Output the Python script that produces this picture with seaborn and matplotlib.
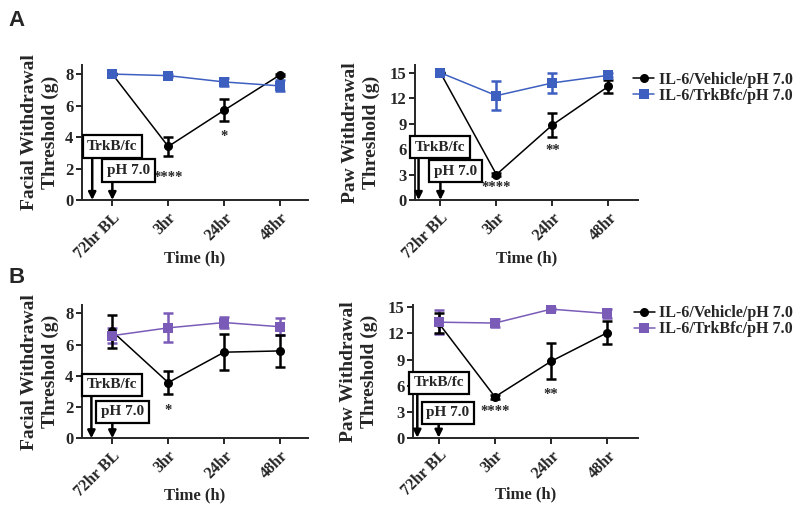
import numpy as np
import pandas as pd
import matplotlib.pyplot as plt
import seaborn as sns

# time points and groups
times = ['72hr BL', '3hr', '24hr', '48hr']
groups = ['IL-6/Vehicle/pH 7.0', 'IL-6/TrkBfc/pH 7.0']

# panel A - facial
a_face_veh = [8.0, 3.4, 5.7, 7.95]
a_face_veh_sem = [0.0, 0.6, 0.7, 0.05]
a_face_trk = [8.0, 7.9, 7.5, 7.25]
a_face_trk_sem = [0.05, 0.08, 0.25, 0.35]
# panel A - paw
a_paw_veh = [15.0, 3.0, 8.85, 13.4]
a_paw_veh_sem = [0.0, 0.15, 1.45, 0.8]
a_paw_trk = [15.0, 12.3, 13.8, 14.7]
a_paw_trk_sem = [0.1, 1.75, 1.2, 0.25]
# panel B - facial
b_face_veh = [6.85, 3.57, 5.52, 5.6]
b_face_veh_sem = [1.05, 0.76, 1.17, 1.05]
b_face_trk = [6.58, 7.08, 7.42, 7.15]
b_face_trk_sem = [0.5, 0.92, 0.37, 0.53]
# panel B - paw
b_paw_veh = [13.2, 4.7, 8.8, 12.1]
b_paw_veh_sem = [1.1, 0.2, 2.1, 1.3]
b_paw_trk = [13.3, 13.2, 14.8, 14.3]
b_paw_trk_sem = [1.35, 0.5, 0.15, 0.55]

# significance stars (time index, text, y)
a_face_stars = [(1, '****', 1.7), (2, '*', 4.3)]
a_paw_stars = [(1, '****', 2.0), (2, '**', 6.3)]
b_face_stars = [(1, '*', 2.05)]
b_paw_stars = [(1, '****', 3.45), (2, '**', 5.5)]

sns.set_style('ticks')
plt.rcParams['font.family'] = ['Liberation Serif', 'DejaVu Serif']
plt.rcParams['font.weight'] = 'bold'
plt.rcParams['axes.labelweight'] = 'bold'
plt.rcParams['axes.linewidth'] = 1.4
plt.rcParams['xtick.major.width'] = 1.4
plt.rcParams['ytick.major.width'] = 1.4
plt.rcParams['xtick.major.size'] = 4
plt.rcParams['ytick.major.size'] = 4

fig = plt.figure(figsize=(8, 5.11), dpi=100)


def panel(rect, veh, veh_sem, trk, trk_sem, col, ylim, yticks, xlim, ylab, lab_x,
          stars, trk_box, ph_box, trk_arrow_x, legend_y=None):
    ax = fig.add_axes(rect)
    df = pd.DataFrame({'time': list(range(4)) * 2,
                       'value': veh + trk,
                       'group': [groups[0]] * 4 + [groups[1]] * 4})
    pal = {groups[0]: 'black', groups[1]: col}
    for g, m, s in [(groups[1], trk, trk_sem), (groups[0], veh, veh_sem)]:
        ax.errorbar(range(4), m, yerr=s, fmt='none', ecolor=pal[g],
                    elinewidth=1.8, capsize=3.5, capthick=1.8, zorder=3)
    sns.lineplot(data=df, x='time', y='value', hue='group', style='group',
                 markers={groups[0]: 'o', groups[1]: 's'}, dashes=False,
                 palette=pal, markersize=6.5, markeredgewidth=0, linewidth=1.1,
                 ax=ax, legend=legend_y is not None, zorder=4)
    ax.set_xlim(*xlim)
    ax.set_ylim(*ylim)
    ax.set_yticks(yticks)
    ax.set_xticks(range(4))
    ax.set_xticklabels(times, rotation=45, ha='right', rotation_mode='anchor',
                       fontsize=11.5)
    ax.tick_params(axis='y', labelsize=12, pad=2)
    ax.tick_params(axis='x', pad=3)
    sns.despine(ax=ax)
    ax.set_xlabel('Time (h)', fontsize=12)
    ax.xaxis.set_label_coords(0.5, -0.37)
    ax.set_ylabel(ylab, fontsize=14, linespacing=1.3)
    ax.yaxis.set_label_coords(lab_x, 0.5)

    # asterisks sit high in the font box, so nudge them down a little
    for i, txt, y in stars:
        ax.annotate(txt, (i, y), xytext=(0, -3), textcoords='offset points',
                    ha='center', va='center', fontsize=10.5)

    # treatment boxes with arrows
    ax.annotate('', xy=(trk_arrow_x, 0), xytext=(trk_arrow_x, trk_box[1]),
                arrowprops=dict(arrowstyle='-|>', color='black', lw=1.8,
                                mutation_scale=11, shrinkA=0, shrinkB=0),
                annotation_clip=False, zorder=5)
    ax.annotate('', xy=(0, 0), xytext=(0, ph_box[1]),
                arrowprops=dict(arrowstyle='-|>', color='black', lw=1.8,
                                mutation_scale=11, shrinkA=0, shrinkB=0),
                annotation_clip=False, zorder=5)
    bstyle = dict(boxstyle='square,pad=0.3', fc='white', ec='black', lw=1.6)
    ax.text(trk_box[0], trk_box[2], 'TrkB/fc', ha='center', va='center',
            fontsize=11, bbox=bstyle, zorder=6)
    ax.text(ph_box[0], ph_box[2], 'pH 7.0', ha='center', va='center',
            fontsize=11, bbox=bstyle, zorder=6)

    if legend_y is not None:
        h, l = ax.get_legend_handles_labels()
        ax.legend(h, l, loc='center left', bbox_to_anchor=(0.98, legend_y),
                  frameon=False, fontsize=11.5, handlelength=1.3,
                  handletextpad=0.3, labelspacing=0.0, borderpad=0,
                  borderaxespad=0)
    return ax


# boxes: (center x, bottom y, center y)
panel([0.102, 0.6086, 0.283, 0.264], a_face_veh, a_face_veh_sem, a_face_trk,
      a_face_trk_sem, '#3d5fc0', (0, 8.57), [0, 2, 4, 6, 8], (-0.55, 3.5),
      'Facial Withdrawal\nThreshold (g)', -0.1, a_face_stars,
      (0.0, 2.67, 3.4), (0.29, 1.08, 1.87), -0.36)
panel([0.519, 0.6086, 0.278, 0.264], a_paw_veh, a_paw_veh_sem, a_paw_trk,
      a_paw_trk_sem, '#3d5fc0', (0, 15.9), [0, 3, 6, 9, 12, 15], (-0.45, 3.52),
      'Paw Withdrawal\nThreshold (g)', -0.158, a_paw_stars,
      (-0.01, 4.8, 6.2), (0.27, 2.0, 3.4), -0.39, legend_y=0.83)
panel([0.102, 0.1423, 0.283, 0.261], b_face_veh, b_face_veh_sem, b_face_trk,
      b_face_trk_sem, '#7a5cb8', (0, 8.55), [0, 2, 4, 6, 8], (-0.55, 3.5),
      'Facial Withdrawal\nThreshold (g)', -0.1, b_face_stars,
      (-0.01, 2.67, 3.43), (0.18, 0.96, 1.7), -0.375)
panel([0.516, 0.1435, 0.282, 0.26], b_paw_veh, b_paw_veh_sem, b_paw_trk,
      b_paw_trk_sem, '#7a5cb8', (0, 15.3), [0, 3, 6, 9, 12, 15], (-0.46, 3.55),
      'Paw Withdrawal\nThreshold (g)', -0.155, b_paw_stars,
      (0.0, 4.94, 6.3), (0.16, 1.63, 2.87), -0.38, legend_y=0.875)

fig.text(0.01, 0.98, 'A', fontsize=16, fontweight='bold', family='Liberation Sans',
         va='top', ha='left')
fig.text(0.01, 0.478, 'B', fontsize=16, fontweight='bold', family='Liberation Sans',
         va='top', ha='left')

fig.savefig('out.png', dpi=100)
